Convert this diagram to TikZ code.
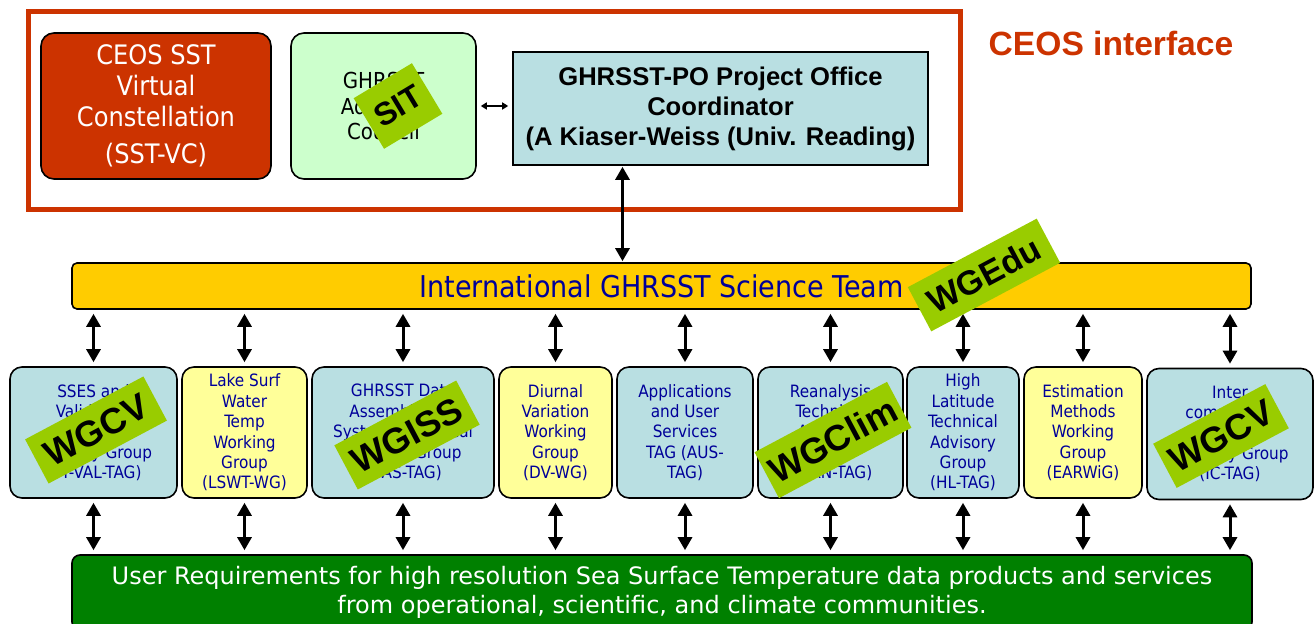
\documentclass[tikz,border=0pt]{standalone}
\usepackage{fontspec}
\setmainfont{Liberation Sans}
\newfontfamily\tahoma{DejaVu Sans Condensed}
\newfontfamily\verdana{DejaVu Sans}
\usetikzlibrary{arrows.meta}

\definecolor{ceosred}{HTML}{CC3300}
\definecolor{councilgreen}{HTML}{CCFFCC}
\definecolor{tagblue}{HTML}{B9DFE2}
\definecolor{wgyellow}{HTML}{FFFF99}
\definecolor{teamorange}{HTML}{FFCC00}
\definecolor{usergreen}{HTML}{008000}
\definecolor{stickergreen}{HTML}{99CC00}
\definecolor{navy}{HTML}{000099}

\tikzset{
  group/.style={draw=black, line width=0.8pt, rounded corners=6pt, align=center,
    minimum height=65.5pt, inner sep=1pt, text=navy,
    font=\tahoma\fontsize{8.5}{10.2}\selectfont},
  tagbox/.style={group, fill=tagblue},
  wgbox/.style={group, fill=wgyellow},
  sticker/.style={fill=stickergreen, rotate=28, inner sep=0pt,
    font=\bfseries\fontsize{18}{18}\selectfont},
  link/.style={{Triangle[length=6.5pt,width=7pt]}-{Triangle[length=6.5pt,width=7pt]},
    line width=1.5pt, shorten >=2pt, shorten <=2pt},
}

\begin{document}
\begin{tikzpicture}[x=0.5pt,y=-0.5pt]
  \clip (0,0) rectangle (1314,624);

  % CEOS interface frame
  \draw[ceosred, line width=2.5pt] (28,12) rectangle (960,210);
  \node[text=ceosred, font=\bfseries\fontsize{16.8}{18}\selectfont] (ceos) at (1111,43) {CEOS interface};

  \node[draw, line width=0.8pt, fill=ceosred, rounded corners=6.5pt, minimum width=115pt,
    minimum height=73pt, align=center, text=white,
    font=\tahoma\fontsize{13.4}{15.5}\selectfont] (sstvc) at (156,106)
    {CEOS SST\\Virtual\\Constellation\\[3pt](SST-VC)};
  \node[draw, line width=0.8pt, fill=councilgreen, rounded corners=6.5pt, minimum width=92.5pt,
    minimum height=73pt, align=center, font=\tahoma\fontsize{11}{12.5}\selectfont]
    (council) at (383.5,106) {GHRSST\\Advisory\\Council};
  \node[draw, line width=0.8pt, fill=tagblue, minimum width=207.5pt, minimum height=56.5pt,
    align=center, font=\bfseries\fontsize{12.8}{15}\selectfont] (po) at (720.5,108.5)
    {GHRSST-PO Project Office\\Coordinator\\(A Kiaser-Weiss (Univ. Reading)};

  % Science team
  \node[draw, line width=0.8pt, fill=teamorange, rounded corners=2.5pt, minimum width=589.5pt,
    minimum height=23pt, text=navy, font=\tahoma\fontsize{15}{16}\selectfont]
    (team) at (661.5,286) {International GHRSST Science Team};

  % Technical advisory groups and working groups
  \node[tagbox, minimum width=83.5pt] (sses) at (93.5,432.5)
    {SSES and\\Validation\\Technical\\Advisory Group\\(ST-VAL-TAG)};
  \node[wgbox, minimum width=62.5pt] (lswt) at (244.5,432.5)
    {Lake Surf\\Water\\Temp\\Working\\Group\\(LSWT-WG)};
  \node[tagbox, minimum width=91pt] (das) at (403,432.5)
    {GHRSST Data\\Assembly and\\Systems Technical\\Advisory Group\\(DAS-TAG)};
  \node[wgbox, minimum width=56.5pt] (dv) at (555.5,432.5)
    {Diurnal\\Variation\\Working\\Group\\(DV-WG)};
  \node[tagbox, minimum width=68pt] (aus) at (685,432.5)
    {Applications\\and User\\Services\\TAG (AUS-\\TAG)};
  \node[tagbox, minimum width=72.5pt] (ran) at (830.5,432.5)
    {Reanalysis\\Technical\\Advisory\\Group\\(R/AN-TAG)};
  \node[tagbox, minimum width=56pt] (hl) at (963,432.5)
    {High\\Latitude\\Technical\\Advisory\\Group\\(HL-TAG)};
  \node[wgbox, minimum width=59pt] (ear) at (1083,432.5)
    {Estimation\\Methods\\Working\\Group\\(EARWiG)};
  \node[tagbox, minimum width=83pt] (ic) at (1230,434)
    {Inter\\comparison\\Technical\\Advisory Group\\(IC-TAG)};

  % User requirements
  \node[draw, line width=0.8pt, fill=usergreen, rounded corners=4pt, minimum width=590pt,
    minimum height=37.5pt, align=center, text=white,
    font=\verdana\fontsize{12}{14.5}\selectfont] (users) at (662,592.5)
    {User Requirements for high resolution Sea Surface Temperature data products and services\\
     from operational, scientific, and climate communities.};

  % Arrows
  \draw[{Triangle[length=3pt,width=3.5pt]}-{Triangle[length=3pt,width=3.5pt]}, line width=0.8pt,
    shorten >=2pt, shorten <=2pt] (council.east) -- (council.east -| po.west);
  \draw[link, shorten >=0.5pt, shorten <=0.5pt] ([xshift=-49pt]po.south) -- ([xshift=-49pt]po.south |- team.north);
  \foreach \g in {sses,lswt,das,dv,aus,ran,hl,ear,ic} {
    \draw[link] (\g.north) -- (\g.north |- team.south);
    \draw[link] (\g.south) -- (\g.south |- users.north);
  }

  % CEOS working group stickers
  \node[sticker, rotate=3, minimum width=34pt, minimum height=29.5pt, font=\bfseries\fontsize{16}{16}\selectfont] (sit) at (398,106) {SIT};
  \node[sticker, minimum width=73pt, minimum height=25pt, font=\bfseries\fontsize{17}{17}\selectfont] (wgedu) at (984,275) {WGEdu};
  \node[sticker, minimum width=67pt, minimum height=25pt] (wgcva) at (96,430) {WGCV};
  \node[sticker, minimum width=69pt, minimum height=25pt] (wgiss) at (407,435) {WGISS};
  \node[sticker, minimum width=75pt, minimum height=26pt] (wgclim) at (833,440) {WGClim};
  \node[sticker, minimum width=63.5pt, minimum height=25pt] (wgcvb) at (1221,436) {WGCV};
\end{tikzpicture}
\end{document}
